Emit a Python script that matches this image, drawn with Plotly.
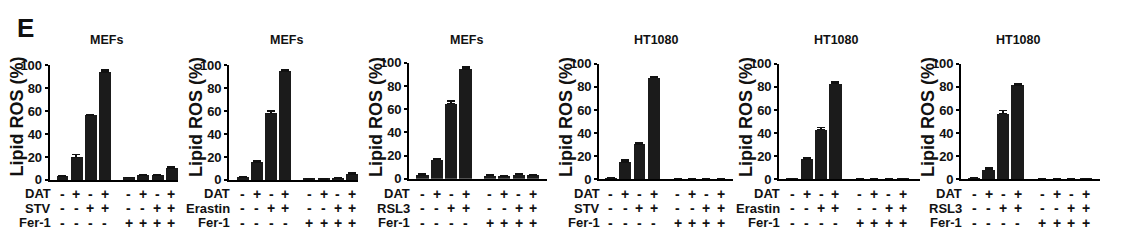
import plotly.graph_objects as go

# ---------------- data ----------------
titles = ["MEFs", "MEFs", "MEFs", "HT1080", "HT1080", "HT1080"]
inducers = ["STV", "Erastin", "RSL3", "STV", "Erastin", "RSL3"]
dat_signs = ["-", "+", "-", "+", "-", "+", "-", "+"]
ind_signs = ["-", "-", "+", "+", "-", "-", "+", "+"]
fer_signs = ["-", "-", "-", "-", "+", "+", "+", "+"]

vals_p1 = [3.5, 19.5, 56.0, 94.0, 2.0, 4.0, 4.2, 10.5]
vals_p2 = [2.7, 15.5, 58.0, 94.5, 1.0, 1.0, 1.3, 5.2]
vals_p3 = [3.0, 16.5, 65.0, 94.6, 2.7, 2.2, 3.5, 3.2]
vals_p4 = [0.8, 15.0, 30.5, 88.0, 0.3, 0.2, 0.1, 0.3]
vals_p5 = [0.6, 17.5, 43.0, 83.0, 0.3, 0.1, 0.2, 0.5]
vals_p6 = [1.3, 8.4, 57.0, 81.5, 0.3, 0.1, 0.1, 0.6]

err_p1 = [0.5, 2.5, 1.0, 1.8, 0.3, 0.4, 0.4, 1.2]
err_p2 = [0.4, 1.5, 2.0, 1.5, 0.2, 0.2, 0.2, 1.0]
err_p3 = [1.0, 1.0, 2.0, 2.0, 0.4, 0.3, 0.5, 0.4]
err_p4 = [0.2, 1.5, 1.2, 1.0, 0.1, 0.1, 0.1, 0.1]
err_p5 = [0.2, 1.3, 2.0, 1.2, 0.1, 0.1, 0.1, 0.2]
err_p6 = [0.3, 1.2, 2.5, 1.5, 0.1, 0.1, 0.1, 0.2]

y_ticks = [0, 20, 40, 60, 80, 100]

values = [vals_p1, vals_p2, vals_p3, vals_p4, vals_p5, vals_p6]
errors = [err_p1, err_p2, err_p3, err_p4, err_p5, err_p6]

# ---------------- layout geometry ----------------
W, H = 1123, 249
FONT = "Arial, Liberation Sans, Helvetica, sans-serif"
GAP = 0.7
xpos = [i + (GAP if i >= 4 else 0) for i in range(8)]

# axis pixel extents (left, right) and y pixel (zero, hundred)
ax_px = [(49.5, 178), (229, 358), (409, 547), (599, 733), (779, 920), (961, 1100)]
ay_px = [(184, 62), (184, 62), (182.7, 59.5), (183.3, 60.5), (183.3, 60.5), (183.3, 60.5)]
xranges = [(-0.88, 8.17), (-0.96, 8.12), (-0.94, 8.68), (-0.84, 8.56), (-0.92, 8.87), (-0.9, 8.69)]

fig = go.Figure()
annotations = []
row_y = [198.5, 214, 229.5]

for k in range(6):
    n = "" if k == 0 else str(k + 1)
    fig.add_trace(go.Bar(
        x=xpos, y=values[k],
        xaxis="x" + n, yaxis="y" + n,
        width=0.84,
        marker=dict(color="#1b1b1b", line=dict(width=0)),
        error_y=dict(type="data", array=errors[k], arrayminus=[0] * 8,
                     symmetric=False, color="#111111", thickness=1.5, width=4),
        showlegend=False,
    ))
    x0, x1 = ax_px[k]
    y0, y1 = ay_px[k]
    fig.update_layout(**{
        "xaxis" + n: dict(
            domain=[x0 / W, x1 / W], range=list(xranges[k]),
            showline=True, linecolor="black", linewidth=1.6,
            showticklabels=False, ticks="", showgrid=False, zeroline=False,
            anchor="y" + n, fixedrange=True,
        ),
        "yaxis" + n: dict(
            domain=[1 - y0 / H, 1 - y1 / H], range=[0, 100],
            tickvals=y_ticks, ticktext=[str(t) for t in y_ticks],
            showline=True, linecolor="black", linewidth=1.6,
            ticks="outside", ticklen=3, tickwidth=1.5, tickcolor="black",
            tickfont=dict(family=FONT, size=13, color="#111111", weight="bold"),
            showgrid=False, zeroline=False, anchor="x" + n, fixedrange=True,
        ),
    })
    xr = "x" + n
    # panel title
    annotations.append(dict(
        text=titles[k], xref=xr + " domain", yref="paper",
        x=0, xshift=57, y=1 - 35 / H, xanchor="center", yanchor="middle",
        showarrow=False, font=dict(family=FONT, size=12.5, color="#111111", weight="bold"),
    ))
    # y axis title
    annotations.append(dict(
        text="Lipid ROS (%)", xref=xr + " domain", yref="paper",
        x=0, xshift=-33, y=1 - 117 / H, xanchor="center", yanchor="middle",
        textangle=-90, showarrow=False,
        font=dict(family=FONT, size=18, color="#111111", weight="bold"),
    ))
    # row labels
    labels = ["DAT", inducers[k], "Fer-1"]
    signs = [dat_signs, ind_signs, fer_signs]
    for r in range(3):
        annotations.append(dict(
            text=labels[r], xref=xr + " domain", yref="paper",
            x=0, xshift=2, y=1 - row_y[r] / H, xanchor="right", yanchor="middle",
            showarrow=False, borderpad=0,
            font=dict(family=FONT, size=13, color="#111111", weight="bold"),
        ))
        for i in range(8):
            annotations.append(dict(
                text=signs[r][i], xref=xr, yref="paper",
                x=xpos[i], y=1 - row_y[r] / H, xanchor="center", yanchor="middle",
                showarrow=False, borderpad=0,
                font=dict(family=FONT, size=14, color="#111111", weight="bold"),
            ))

annotations.append(dict(
    text="E", xref="paper", yref="paper", x=25 / W, y=1 - 22 / H,
    xanchor="center", yanchor="middle", showarrow=False,
    font=dict(family=FONT, size=26, color="#111111", weight="bold"),
))

fig.update_layout(
    width=W, height=H,
    margin=dict(l=0, r=0, t=0, b=0),
    paper_bgcolor="white", plot_bgcolor="white",
    annotations=annotations, bargap=0,
)

fig.write_html("out.html", config={"displayModeBar": False})
